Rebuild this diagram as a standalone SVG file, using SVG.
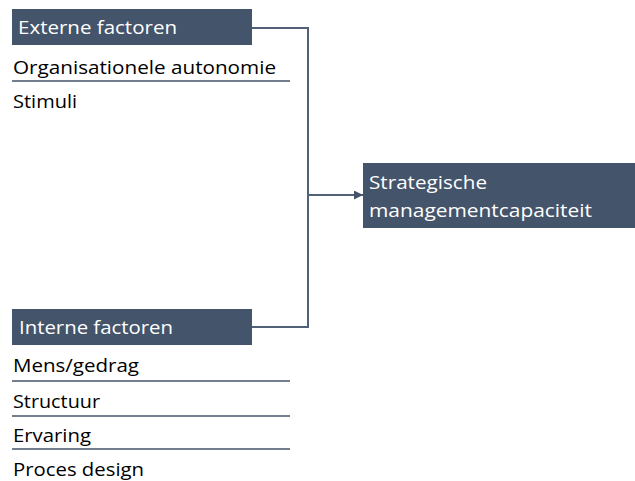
<svg xmlns="http://www.w3.org/2000/svg" width="635" height="481" viewBox="0 0 635 481">
<style>
.box{fill:#44546A;}
.hd{font-family:"Open Sans","Liberation Sans",Arial,sans-serif;font-size:19px;fill:#ffffff;}
.it{font-family:"Open Sans","Liberation Sans",Arial,sans-serif;font-size:19px;fill:#000000;}
.sep{stroke:#44546A;stroke-width:1.5;fill:none;}
.con{stroke:#526178;stroke-width:2;fill:none;}
</style>
<defs>
<marker id="arr" viewBox="0 0 10 10" refX="10" refY="5" markerWidth="9" markerHeight="9" markerUnits="userSpaceOnUse" orient="auto">
<path d="M0,0 L10,5 L0,10 z" fill="#44546A"/>
</marker>
</defs>
<rect width="635" height="481" fill="#ffffff"/>
<g id="connectors">
<polyline class="con" points="252,28 308,28 308,327 252,327"/>
<line class="con" x1="308" y1="195" x2="363" y2="195" marker-end="url(#arr)"/>
</g>
<g id="externe">
<rect class="box" x="12" y="9" width="240" height="36"/>
<text class="hd" x="18" y="34" textLength="159" lengthAdjust="spacingAndGlyphs">Externe factoren</text>
<text class="it" x="13" y="74" textLength="263" lengthAdjust="spacingAndGlyphs">Organisationele autonomie</text>
<line class="sep" x1="12" y1="81" x2="290" y2="81"/>
<text class="it" x="13" y="108" textLength="64" lengthAdjust="spacingAndGlyphs">Stimuli</text>
</g>
<g id="interne">
<rect class="box" x="12" y="309" width="240" height="36"/>
<text class="hd" x="19" y="334" textLength="154" lengthAdjust="spacingAndGlyphs">Interne factoren</text>
<text class="it" x="13" y="372" textLength="126" lengthAdjust="spacingAndGlyphs">Mens/gedrag</text>
<line class="sep" x1="12" y1="381" x2="290" y2="381"/>
<text class="it" x="13" y="408" textLength="87" lengthAdjust="spacingAndGlyphs">Structuur</text>
<line class="sep" x1="12" y1="416" x2="290" y2="416"/>
<text class="it" x="13" y="442" textLength="78" lengthAdjust="spacingAndGlyphs">Ervaring</text>
<line class="sep" x1="12" y1="449" x2="290" y2="449"/>
<text class="it" x="13" y="476" textLength="131" lengthAdjust="spacingAndGlyphs">Proces design</text>
</g>
<g id="strategische">
<rect class="box" x="363" y="163" width="272" height="65"/>
<text class="hd" x="369" y="189" textLength="118" lengthAdjust="spacingAndGlyphs">Strategische</text>
<text class="hd" x="369" y="217" textLength="223" lengthAdjust="spacingAndGlyphs">managementcapaciteit</text>
</g>
</svg>
